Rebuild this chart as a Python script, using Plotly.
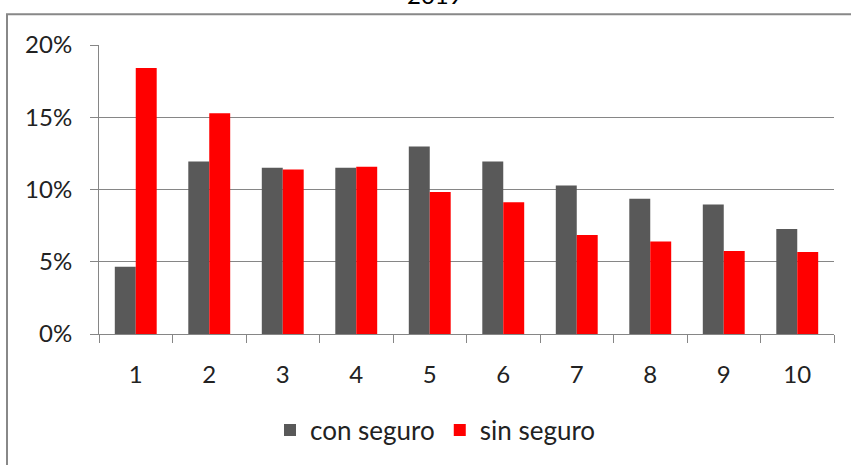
import plotly.graph_objects as go

categories = ["1", "2", "3", "4", "5", "6", "7", "8", "9", "10"]
con_seguro = [0.0465, 0.1194, 0.115, 0.115, 0.1297, 0.1194, 0.1027, 0.0936, 0.0897, 0.0726]
sin_seguro = [0.184, 0.1527, 0.1139, 0.1157, 0.0982, 0.0911, 0.0685, 0.0641, 0.0575, 0.0568]
y_ticks = [0, 0.05, 0.10, 0.15, 0.20]
y_tick_labels = ["0%", "5%", "10%", "15%", "20%"]
title_text = "2019"

W, H = 851, 465
L, R, T, B = 99, 17, 45, 128
pw, ph = W - L - R, H - T - B

def px_x(x):
    return (x - L) / pw

def px_y(y):
    return 1 + (T - y) / ph

FONT = "Lato"
GRID = "#868686"
TXT = "#222222"

fig = go.Figure()
fig.add_trace(go.Bar(x=categories, y=con_seguro, name="con seguro",
                     marker=dict(color="#595959", line=dict(width=0))))
fig.add_trace(go.Bar(x=categories, y=sin_seguro, name="sin seguro",
                     marker=dict(color="#FF0000", line=dict(width=0))))

fig.update_layout(
    width=W, height=H,
    margin=dict(l=L, r=R, t=T, b=B, pad=0),
    paper_bgcolor="white", plot_bgcolor="white",
    barmode="group", bargap=0.43, bargroupgap=0,
    font=dict(family=FONT, size=24, color=TXT),
    showlegend=True,
    legend=dict(orientation="h", x=px_x(270), xanchor="left",
                y=px_y(434), yanchor="middle",
                font=dict(family=FONT, size=26, color=TXT),
                itemwidth=30, bgcolor="rgba(0,0,0,0)"),
    xaxis=dict(type="category", tickson="boundaries", ticks="outside",
               ticklen=8, tickcolor=GRID, tickwidth=1,
               showline=True, linecolor=GRID, linewidth=1,
               showgrid=False, ticklabelstandoff=19,
               tickfont=dict(family=FONT, size=24, color=TXT)),
    yaxis=dict(range=[0, 0.20], tickvals=y_ticks, ticktext=y_tick_labels,
               ticks="outside", ticklen=8, tickcolor=GRID, tickwidth=1,
               showline=True, linecolor=GRID, linewidth=1,
               showgrid=True, gridcolor=GRID, gridwidth=1,
               zeroline=False, ticklabelstandoff=13,
               tickfont=dict(family=FONT, size=24, color=TXT)),
    shapes=[dict(type="rect", xref="paper", yref="paper",
                 x0=px_x(7), x1=px_x(900), y0=px_y(520), y1=px_y(14),
                 line=dict(color="#888888", width=2), fillcolor="rgba(0,0,0,0)",
                 layer="below")],
    annotations=[dict(text=title_text, xref="paper", yref="paper",
                      x=px_x(435), y=px_y(11), xanchor="center", yanchor="bottom",
                      showarrow=False,
                      font=dict(family=FONT, size=24, color="#000000"))],
)

fig.write_html("out.html")
